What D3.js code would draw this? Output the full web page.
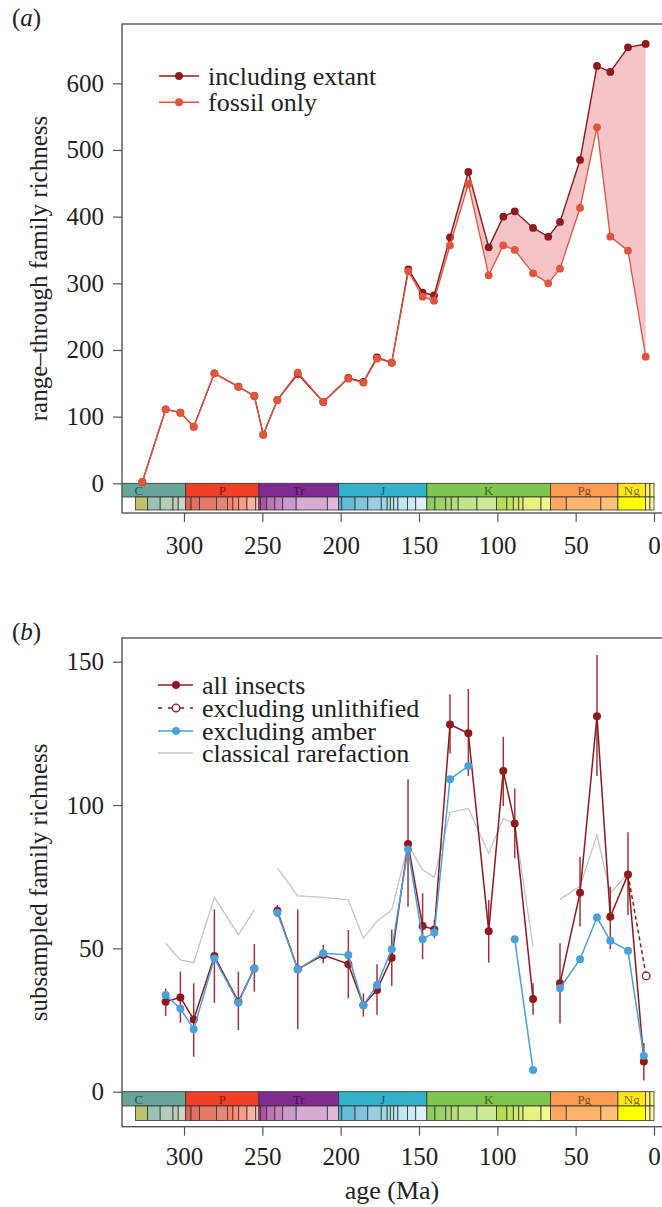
<!DOCTYPE html>
<html><head><meta charset="utf-8">
<script src="https://cdn.jsdelivr.net/npm/d3@7"></script>
<style>
html,body{margin:0;padding:0;background:#fff;}
svg{display:block;}
</style></head><body>
<svg id="chart" width="662" height="1207"></svg>
<script>
// ---------------- data ----------------
const xTicks = [300, 250, 200, 150, 100, 50, 0];

// panel (a): range-through family richness
const agesA   = [326.6, 311.7, 302.3, 293.8, 280.6, 265.3, 255.1, 249.4, 240.4, 227.4, 211.1, 195.1, 185.5, 176.8, 167.4, 156.8, 147.7, 140.4, 130.2, 118.5, 105.5, 96.2, 88.9, 77.2, 67.5, 60.0, 47.2, 36.4, 27.9, 16.6, 5.3];
const extantA = [2, 111, 106, 85, 165, 145, 131, 73, 125, 164, 122, 158, 152, 189, 181, 321, 286, 282, 369, 467, 354, 400, 408, 383, 370, 392, 485, 626, 617, 654, 659];
const fossilA = [2, 111, 106, 85, 165, 145, 131, 73, 125, 166, 122, 157, 151, 187, 181, 318, 280, 274, 357, 449, 312, 357, 350, 315, 300, 322, 413, 534, 370, 349, 190];
const yTicksA = [0, 100, 200, 300, 400, 500, 600];
const legendA = ["including extant", "fossil only"];

// panel (b): subsampled family richness
const agesB       = [311.7, 302.3, 293.8, 280.6, 265.3, 255.1, 249.4, 240.4, 227.4, 211.1, 195.1, 185.5, 176.8, 167.4, 157.0, 147.7, 140.2, 130.2, 118.5, 105.5, 96.2, 88.9, 77.2, 67.5, 60.0, 47.2, 36.4, 27.9, 16.6, 6.5];
const allInsects  = [31.4, 32.9, 25.2, 47.3, 31.4, 43.0, null, 63.1, 42.7, 47.7, 44.5, 30.2, 35.5, 46.7, 86.4, 57.8, 56.6, 128.1, 125.0, 56.0, 111.9, 93.6, 32.3, null, 37.8, 69.4, 131.0, 61.0, 75.8, 10.5];
const allLo       = [26.4, 24.0, 12.2, 31.0, 21.5, 34.9, null, 61.0, 21.8, 44.8, 32.6, 26.2, 26.8, 36.9, 64.5, 46.2, 53.5, 118.0, 110.1, 45.0, 99.6, 81.4, 26.8, null, 23.8, 57.6, 110.1, 49.7, 61.6, 3.9];
const allHi       = [36.0, 41.9, 37.8, 63.6, 41.9, 51.5, null, 65.1, 63.6, 51.2, 56.4, 34.3, 44.5, 56.6, 109.0, 69.2, 59.9, 138.6, 140.5, 66.9, 123.8, 105.8, 37.8, null, 51.8, 82.0, 152.3, 71.5, 90.5, 17.0];
const exclAmber   = [33.7, 29.0, 21.8, 46.5, 31.0, 43.0, null, 62.4, 42.7, 48.3, 47.7, 30.2, 37.2, 49.7, 84.5, 53.2, 55.5, 109.0, 113.6, null, null, 53.2, 7.6, null, 36.1, 46.2, 60.8, 52.7, 49.2, 12.5];
const rarefaction = [51.8, 46.0, 45.0, 67.8, 54.7, 63.4, null, 78.1, 68.3, 67.8, 66.9, 53.5, 59.5, 63.4, 86.0, 77.4, 74.8, 97.4, 98.8, 83.1, 95.3, 93.4, 50.6, null, 67.1, 71.7, 89.5, 69.2, 76.2, null];
const unlithAges  = [16.6, 5.0];
const unlithVals  = [75.8, 40.4];
const yTicksB = [0, 50, 100, 150];
const legendB = ["all insects", "excluding unlithified", "excluding amber", "classical rarefaction"];

// geological timescale
const periodNames  = ["C", "P", "Tr", "J", "K", "Pg", "Ng", "", ""];
const periodStarts = [358.9, 298.9, 252.2, 201.3, 145.0, 66.0, 23.03, 5.333, 2.58];
const periodEnds   = [298.9, 252.2, 201.3, 145.0, 66.0, 23.03, 5.333, 2.58, 0];
const periodColors = ["#67A599", "#F04028", "#812B92", "#34B2C9", "#7FC64E", "#FD9A52", "#FFE619", "#FFF07A", "#F9F97F"];
const stageStarts = [330.9, 323.2, 315.2, 307.0, 303.7,
  298.9, 295.5, 290.1, 279.3, 272.3, 268.8, 265.1, 259.8, 254.2,
  252.2, 251.2, 247.2, 242.0, 237.0, 228.4, 208.5,
  201.3, 199.3, 190.8, 182.7, 174.1, 170.3, 168.3, 166.1, 163.5, 157.3, 152.1,
  145.0, 139.8, 132.9, 129.4, 125.0, 113.0, 100.5, 93.9, 89.8, 86.3, 83.6, 72.1,
  66.0, 56.0, 33.9,
  23.03, 5.333, 2.58];
const stageColors = ["#BFC26B", "#99C2B5", "#B3CBB9", "#BFD0BA", "#CCD4C7",
  "#E36350", "#E36F5C", "#E37B68", "#E38776", "#FB8069", "#FB8D76", "#FB9A85", "#FCB4A2", "#FCC0B2",
  "#A4469F", "#B051A5", "#BC75B7", "#C983BF", "#C99BCB", "#D6AAD3", "#E3B9DB",
  "#4EB3D3", "#67BCD8", "#80C5DD", "#99CEE3", "#9AD9DD", "#A6DDE0", "#B3E2E3", "#BFE7E5", "#BFE7F1", "#CCECF4", "#D9F1F7",
  "#8CCD60", "#99D36A", "#A6D975", "#B3DF7F", "#BFE48A", "#CCEA97", "#B3DE53", "#BFE35D", "#CCE968", "#D9EF74", "#E6F47F", "#F2FA8C",
  "#FDA75F", "#FDB46C", "#FDC07A",
  "#FFFF00", "#FFFF99", "#FFF2AE"];

// ---------------- drawing ----------------
const FONT = "'Liberation Serif','Times New Roman',serif";
const FS = 25;
const DARK = "#8e1a1e", ORANGE = "#e0553c", BLUE = "#4aa0da", GRAY = "#c4c4c4", PINK = "#f6c4c6";
const L = 122, R = 664;
const svg = d3.select("#chart");
const x = d3.scaleLinear().domain([300, 0]).range([184, 654]);

function panelBase(p, id) {
  const g = svg.append("g");
  svg.append("clipPath").attr("id", id).append("rect")
    .attr("x", L).attr("y", p.top).attr("width", R - L).attr("height", p.axisY - p.top);
  // timescale
  const ts = g.append("g").attr("clip-path", `url(#${id})`);
  periodNames.forEach((n, i) => {
    ts.append("rect").attr("x", x(periodStarts[i])).attr("y", p.ts0)
      .attr("width", x(periodEnds[i]) - x(periodStarts[i])).attr("height", p.ts1 - p.ts0)
      .attr("fill", periodColors[i]).attr("stroke", "#333").attr("stroke-width", 0.8);
    if (n) ts.append("text").attr("x", x((periodStarts[i] + periodEnds[i]) / 2)).attr("y", p.ts1 - 2)
      .attr("text-anchor", "middle").attr("font-family", FONT).attr("font-size", 13)
      .attr("fill", "rgba(0,0,0,0.55)").text(n);
  });
  stageStarts.forEach((s, i) => {
    const e = i + 1 < stageStarts.length ? stageStarts[i + 1] : 0;
    ts.append("rect").attr("x", x(s)).attr("y", p.ts1)
      .attr("width", x(e) - x(s)).attr("height", p.ts2 - p.ts1)
      .attr("fill", stageColors[i]).attr("stroke", "#333").attr("stroke-width", 0.8);
  });
  // frame
  g.append("rect").attr("x", L).attr("y", p.top).attr("width", R - L).attr("height", p.axisY - p.top)
    .attr("fill", "none").attr("stroke", "#555").attr("stroke-width", 1.4);
  // axes
  const ya = g.append("g").attr("transform", `translate(${L},0)`)
    .call(d3.axisLeft(p.y).tickValues(p.ticks).tickSize(9).tickPadding(9).tickFormat(d3.format("d")));
  const xa = g.append("g").attr("transform", `translate(0,${p.axisY})`)
    .call(d3.axisBottom(x).tickValues(xTicks).tickSize(9).tickPadding(p.xpad).tickFormat(d3.format("d")));
  [ya, xa].forEach(a => {
    a.select(".domain").remove();
    a.attr("font-family", FONT).attr("font-size", FS);
    a.selectAll("line").attr("stroke", "#555").attr("stroke-width", 1.2);
    a.selectAll("text").attr("fill", "#222");
  });
  // y title
  g.append("text").attr("transform", `translate(47,${(p.top + p.axisY) / 2}) rotate(-90)`)
    .attr("text-anchor", "middle").attr("font-family", FONT).attr("font-size", FS).attr("fill", "#222")
    .text(p.ytitle);
  // panel letter
  const t = g.append("text").attr("x", 12).attr("y", p.top + 2).attr("font-family", FONT)
    .attr("font-size", FS).attr("fill", "#222");
  t.append("tspan").text("(");
  t.append("tspan").attr("font-style", "italic").text(p.letter);
  t.append("tspan").text(")");
  return g;
}

// ---- panel (a) ----
const pA = { top: 24, axisY: 513, ts0: 483.3, ts1: 497, ts2: 510, xpad: 14,
  y: d3.scaleLinear().domain([0, 600]).range([483.3, 83.3]), ticks: yTicksA,
  ytitle: "range\u2013through family richness", letter: "a" };
const gA = panelBase(pA, "clipA");
const idxA = d3.range(agesA.length);
gA.append("path").datum(idxA)
  .attr("d", d3.area().x(i => x(agesA[i])).y0(i => pA.y(fossilA[i])).y1(i => pA.y(extantA[i])))
  .attr("fill", PINK);
gA.append("path").datum(idxA).attr("d", d3.line().x(i => x(agesA[i])).y(i => pA.y(extantA[i])))
  .attr("fill", "none").attr("stroke", DARK).attr("stroke-width", 1.4);
gA.selectAll(".ptE").data(idxA).join("circle").attr("cx", i => x(agesA[i])).attr("cy", i => pA.y(extantA[i]))
  .attr("r", 3.9).attr("fill", DARK);
gA.append("path").datum(idxA).attr("d", d3.line().x(i => x(agesA[i])).y(i => pA.y(fossilA[i])))
  .attr("fill", "none").attr("stroke", ORANGE).attr("stroke-width", 1.3);
gA.selectAll(".ptF").data(idxA).join("circle").attr("cx", i => x(agesA[i])).attr("cy", i => pA.y(fossilA[i]))
  .attr("r", 3.9).attr("fill", ORANGE);
// legend (a)
[DARK, ORANGE].forEach((c, k) => {
  const yy = 76 + k * 26.3;
  gA.append("line").attr("x1", 159).attr("x2", 199).attr("y1", yy).attr("y2", yy).attr("stroke", c).attr("stroke-width", 1.6);
  gA.append("circle").attr("cx", 179).attr("cy", yy).attr("r", 4).attr("fill", c);
  gA.append("text").attr("x", 208).attr("y", yy).attr("dy", "0.33em").attr("font-family", FONT)
    .attr("font-size", FS + 1).attr("fill", "#222").text(legendA[k]);
});

// ---- panel (b) ----
const pB = { top: 638, axisY: 1126.7, ts0: 1091.7, ts1: 1106, ts2: 1120.5, xpad: 12,
  y: d3.scaleLinear().domain([0, 150]).range([1091.7, 661.7]), ticks: yTicksB,
  ytitle: "subsampled family richness", letter: "b" };
const gB = panelBase(pB, "clipB");
const idxB = d3.range(agesB.length);
const lineOf = arr => d3.line().defined(i => arr[i] != null).x(i => x(agesB[i])).y(i => pB.y(arr[i]));
gB.append("path").datum(idxB).attr("d", lineOf(rarefaction))
  .attr("fill", "none").attr("stroke", GRAY).attr("stroke-width", 1.3);
gB.selectAll(".err").data(idxB.filter(i => allLo[i] != null)).join("line")
  .attr("x1", i => x(agesB[i])).attr("x2", i => x(agesB[i]))
  .attr("y1", i => pB.y(allLo[i])).attr("y2", i => pB.y(allHi[i]))
  .attr("stroke", "#a3353a").attr("stroke-width", 1.5);
// excluding unlithified (dashed)
gB.append("path").datum(d3.range(unlithAges.length))
  .attr("d", d3.line().x(i => x(unlithAges[i])).y(i => pB.y(unlithVals[i])))
  .attr("fill", "none").attr("stroke", DARK).attr("stroke-width", 1.5).attr("stroke-dasharray", "4,3");
gB.append("circle").attr("cx", x(unlithAges[1])).attr("cy", pB.y(unlithVals[1])).attr("r", 3.8)
  .attr("fill", "#fff").attr("stroke", DARK).attr("stroke-width", 1.3);
gB.append("path").datum(idxB).attr("d", lineOf(allInsects))
  .attr("fill", "none").attr("stroke", DARK).attr("stroke-width", 1.5);
gB.selectAll(".ptR").data(idxB.filter(i => allInsects[i] != null)).join("circle")
  .attr("cx", i => x(agesB[i])).attr("cy", i => pB.y(allInsects[i])).attr("r", 4).attr("fill", DARK);
gB.append("path").datum(idxB).attr("d", lineOf(exclAmber))
  .attr("fill", "none").attr("stroke", BLUE).attr("stroke-width", 1.5);
gB.selectAll(".ptB").data(idxB.filter(i => exclAmber[i] != null)).join("circle")
  .attr("cx", i => x(agesB[i])).attr("cy", i => pB.y(exclAmber[i])).attr("r", 4).attr("fill", BLUE);
// x title
gB.append("text").attr("x", 392).attr("y", 1199).attr("text-anchor", "middle").attr("font-family", FONT)
  .attr("font-size", FS + 1).attr("fill", "#222").text("age (Ma)");
// legend (b)
const legYB = [685, 708, 731, 753];
legendB.forEach((lab, k) => {
  const yy = legYB[k];
  const ln = gB.append("line").attr("x1", 158).attr("x2", 193).attr("y1", yy).attr("y2", yy).attr("stroke-width", 1.6);
  if (k === 0) { ln.attr("stroke", DARK); gB.append("circle").attr("cx", 176).attr("cy", yy).attr("r", 4).attr("fill", DARK); }
  if (k === 1) { ln.attr("stroke", DARK).attr("stroke-dasharray", "5,6").attr("stroke-dashoffset", 1);
    gB.append("circle").attr("cx", 176).attr("cy", yy).attr("r", 3.8).attr("fill", "#fff").attr("stroke", DARK).attr("stroke-width", 1.3); }
  if (k === 2) { ln.attr("stroke", BLUE); gB.append("circle").attr("cx", 176).attr("cy", yy).attr("r", 4).attr("fill", BLUE); }
  if (k === 3) { ln.attr("stroke", GRAY).attr("stroke-width", 1.3); }
  gB.append("text").attr("x", 202).attr("y", yy).attr("dy", "0.33em").attr("font-family", FONT)
    .attr("font-size", FS + 1).attr("fill", "#222").text(lab);
});
</script>
</body></html>
